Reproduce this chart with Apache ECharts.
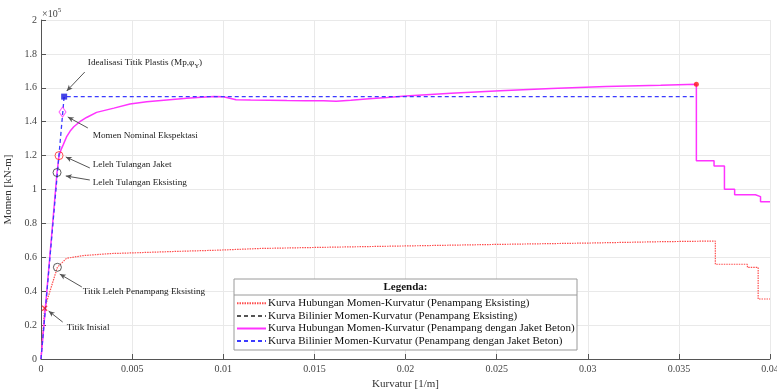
<!DOCTYPE html>
<html>
<head>
<meta charset="utf-8">
<script src="https://cdn.jsdelivr.net/npm/echarts@6/dist/echarts.min.js"></script>
<style>html,body{margin:0;padding:0;background:#fff}#chart{width:777px;height:390px}</style>
</head>
<body>
<div id="chart"></div>
<script>
// Curvature in 1/m, moment in kN-m
const existPhi = [0, 0.0002, 0.0009, 0.0014, 0.0023, 0.0038, 0.0050, 0.0075, 0.0097, 0.0120, 0.0150, 0.0200, 0.0250, 0.0300, 0.0340, 0.0370, 0.0370, 0.03876, 0.03876, 0.03935, 0.03935, 0.0400];
const existM   = [0, 29900, 54100, 59400, 61000, 62200, 62600, 63500, 64200, 65200, 65800, 66700, 67600, 68400, 69200, 69600, 55900, 55900, 54100, 54100, 35400, 35400];

// Bilinear idealisation of the existing section (drawn underneath the other curves)
const existBiPhi = [];
const existBiM = [];

const jacketPhi = [0, 0.00088, 0.00099, 0.00110, 0.00121, 0.00140, 0.00160, 0.00180, 0.00213, 0.0025, 0.00305, 0.0040, 0.00488, 0.0058, 0.0069, 0.0080, 0.0088, 0.0095, 0.0100, 0.0103, 0.0107, 0.0115, 0.0125, 0.0135, 0.0145, 0.0155, 0.0162, 0.0170, 0.0180, 0.0190, 0.0200, 0.0225, 0.0252, 0.0280, 0.0310, 0.0340, 0.03596,
  0.03596, 0.03693, 0.03693, 0.0375, 0.0375, 0.03806, 0.03806, 0.0392, 0.0392, 0.03948, 0.03948, 0.0400];
const jacketM   = [0, 110000, 120000, 123500, 126200, 131000, 134500, 137000, 140000, 142500, 145500, 148000, 150400, 151800, 152800, 153800, 154400, 154800, 154700, 154000, 153000, 152800, 152700, 152500, 152400, 152300, 152000, 152600, 153500, 154300, 155200, 156800, 158300, 159600, 160700, 161500, 162100,
  117000, 117000, 113900, 113900, 100100, 100100, 96900, 96900, 95800, 95800, 92800, 92800];

const jacketBiPhi = [0, 0.00127, 0.03596];
const jacketBiM   = [0, 154800, 154800];

// Key points
const initialPt      = [0.0002, 29900];
const existYieldPt   = [0.0009, 54100];
const rebarExistPt   = [0.00088, 110000];
const rebarJacketPt  = [0.00099, 120000];
const nominalPt      = [0.00118, 145700];
const plasticPt      = [0.00127, 154800];
const ultimatePt     = [0.03596, 162100];

const seriesNames = [
  'Kurva Hubungan Momen-Kurvatur (Penampang Eksisting)',
  'Kurva Bilinier Momen-Kurvatur (Penampang Eksisting)',
  'Kurva Hubungan Momen-Kurvatur (Penampang dengan Jaket Beton)',
  'Kurva Bilinier Momen-Kurvatur (Penampang dengan Jaket Beton)'
];

// Callouts: label anchor, arrow tail and arrow tip (data coordinates)
const callouts = [
  { text: '{t|Idealisasi Titik Plastis (Mp,φ}{s|Y}{t|)}', at: [0.00257, 174600], tail: [0.00240, 169300], tip: [0.00141, 158100] },
  { text: '{t|Momen Nominal Ekspektasi}', at: [0.00284, 131600], tail: [0.00257, 136300], tip: [0.00147, 142800] },
  { text: '{t|Leleh Tulangan Jaket}', at: [0.00284, 114500], tail: [0.00268, 112700], tip: [0.00136, 119200] },
  { text: '{t|Leleh Tulangan Eksisting}', at: [0.00284, 103800], tail: [0.00268, 105600], tip: [0.00136, 108000] },
  { text: '{t|Titik Leleh Penampang Eksisting}', at: [0.00229, 39500], tail: [0.00224, 42500], tip: [0.00103, 50100] },
  { text: '{t|Titik Inisial}', at: [0.00141, 18300], tail: [0.00119, 21800], tip: [0.00042, 28300] }
];

const FONT = '"Liberation Serif", "Times New Roman", serif';
const zip = (xs, ys) => xs.map((x, i) => [x, ys[i]]);

const chart = echarts.init(document.getElementById('chart'), null, { renderer: 'canvas' });

const hollow = (color) => ({ color: 'transparent', borderColor: color, borderWidth: 1 });

const option = {
  animation: false,
  backgroundColor: '#fff',
  textStyle: { fontFamily: FONT },
  grid: { left: 41, right: 7, top: 20, bottom: 31, outerBoundsMode: 'none', containLabel: false },
  xAxis: {
    type: 'value', min: 0, max: 0.04, interval: 0.005,
    name: 'Kurvatur [1/m]', nameLocation: 'middle', nameGap: 17,
    nameTextStyle: { fontFamily: FONT, fontSize: 11, color: '#333' },
    axisLine: { onZero: false, lineStyle: { color: '#555', width: 1 } },
    axisTick: { inside: true, length: 5, lineStyle: { color: '#555' } },
    axisLabel: { fontFamily: FONT, fontSize: 10, color: '#444', margin: 5 },
    splitLine: { show: true, lineStyle: { color: '#e9e9e9', width: 1 } }
  },
  yAxis: {
    type: 'value', min: 0, max: 200000, interval: 20000,
    name: 'Momen [kN-m]', nameLocation: 'middle', nameGap: 23, nameRotate: 90,
    nameTextStyle: { fontFamily: FONT, fontSize: 11, color: '#333' },
    axisLine: { show: true, lineStyle: { color: '#555', width: 1 } },
    axisTick: { show: true, inside: true, length: 5, lineStyle: { color: '#555' } },
    axisLabel: { fontFamily: FONT, fontSize: 10, color: '#444', margin: 4,
      formatter: v => String(+(v / 1e5).toFixed(1)) },
    splitLine: { show: true, lineStyle: { color: '#e9e9e9', width: 1 } }
  },
  legend: {
    orient: 'vertical', left: 236, top: 297, padding: 0,
    itemWidth: 29, itemHeight: 8, itemGap: 0, z: 20,
    itemStyle: { color: 'rgba(0,0,0,0)', borderColor: 'rgba(0,0,0,0)', borderWidth: 0 },
    textStyle: { fontFamily: FONT, fontSize: 11, color: '#111', lineHeight: 12.6, padding: [0, 0, 0, -3] },
    data: seriesNames
  },
  series: [
    {
      name: seriesNames[0], type: 'line', data: zip(existPhi, existM), symbol: 'none',
      lineStyle: { color: '#ff4d4d', width: 1.2, type: [1.5, 1] }, itemStyle: { color: '#ff4d4d' }, z: 2
    },
    {
      name: seriesNames[1], type: 'line', data: zip(existBiPhi, existBiM), symbol: 'none',
      lineStyle: { color: '#555', width: 1.2, type: [4, 3] }, itemStyle: { color: '#555' }, z: 1
    },
    {
      name: seriesNames[2], type: 'line', data: zip(jacketPhi, jacketM), symbol: 'none',
      lineStyle: { color: '#ff33ff', width: 1.5 }, itemStyle: { color: '#ff33ff' }, z: 3
    },
    {
      name: seriesNames[3], type: 'line', data: zip(jacketBiPhi, jacketBiM), symbol: 'none',
      lineStyle: { color: '#3b3bff', width: 1.3, type: [4, 3] }, itemStyle: { color: '#3b3bff' }, z: 4,
      markLine: {
        silent: true, animation: false,
        symbol: ['none', 'arrow'], symbolSize: [4, 6],
        label: { show: false },
        lineStyle: { color: '#555', width: 1, type: 'solid' },
        emphasis: { disabled: true },
        data: callouts.map(c => [{ coord: c.tail }, { coord: c.tip }])
      }
    },
    { type: 'scatter', data: [initialPt], z: 6,
      symbol: 'path://M0 0L10 10M10 0L0 10', symbolSize: 5,
      itemStyle: { color: 'transparent', borderColor: '#ff1a1a', borderWidth: 1.3 } },
    { type: 'scatter', data: [existYieldPt, rebarExistPt], z: 6, symbol: 'circle', symbolSize: 8,
      itemStyle: hollow('#333') },
    { type: 'scatter', data: [rebarJacketPt], z: 6, symbol: 'circle', symbolSize: 8,
      itemStyle: hollow('#ff2020') },
    { type: 'scatter', data: [nominalPt], z: 6, symbol: 'diamond', symbolSize: [7, 10],
      itemStyle: hollow('#ff33ff') },
    { type: 'scatter', data: [plasticPt], z: 6, symbol: 'rect', symbolSize: 6,
      itemStyle: { color: '#1515e0' } },
    { type: 'scatter', data: [ultimatePt], z: 6, symbol: 'circle', symbolSize: 5,
      itemStyle: { color: '#ff1a1a' } }
  ]
};

chart.setOption(option);

// Legend frame, callout labels and the axis exponent
const g = [];
g.push({ type: 'rect', z: 10, shape: { x: 234, y: 279, width: 343, height: 71 },
  style: { fill: '#fff', stroke: '#9a9a9a', lineWidth: 1 } });
g.push({ type: 'line', z: 11, shape: { x1: 234, y1: 295, x2: 577, y2: 295 },
  style: { stroke: '#9a9a9a', lineWidth: 1 } });
g.push({ type: 'text', z: 11, x: 405.5, y: 287,
  style: { text: 'Legenda:', font: 'bold 11px ' + FONT, fill: '#111', align: 'center', verticalAlign: 'middle' } });

const rich = {
  t: { fontFamily: FONT, fontSize: 9.2, fill: '#222' },
  s: { fontFamily: FONT, fontSize: 6.5, fill: '#222', padding: [6, 0, 0, 0] }
};
callouts.forEach(c => {
  const p = chart.convertToPixel({ gridIndex: 0 }, c.at);
  g.push({ type: 'text', z: 12, x: p[0], y: p[1],
    style: { text: c.text, rich: rich, verticalAlign: 'middle', align: 'left' } });
});

const corner = chart.convertToPixel({ gridIndex: 0 }, [0, 200000]);
g.push({ type: 'text', z: 12, x: corner[0] + 1, y: corner[1] - 6,
  style: { text: '{a|×10}{b|5}', verticalAlign: 'middle',
    rich: { a: { fontFamily: FONT, fontSize: 10, fill: '#444' },
            b: { fontFamily: FONT, fontSize: 7, fill: '#444', padding: [0, 0, 7, 0] } } } });

chart.setOption({ graphic: g });
</script>
</body>
</html>
